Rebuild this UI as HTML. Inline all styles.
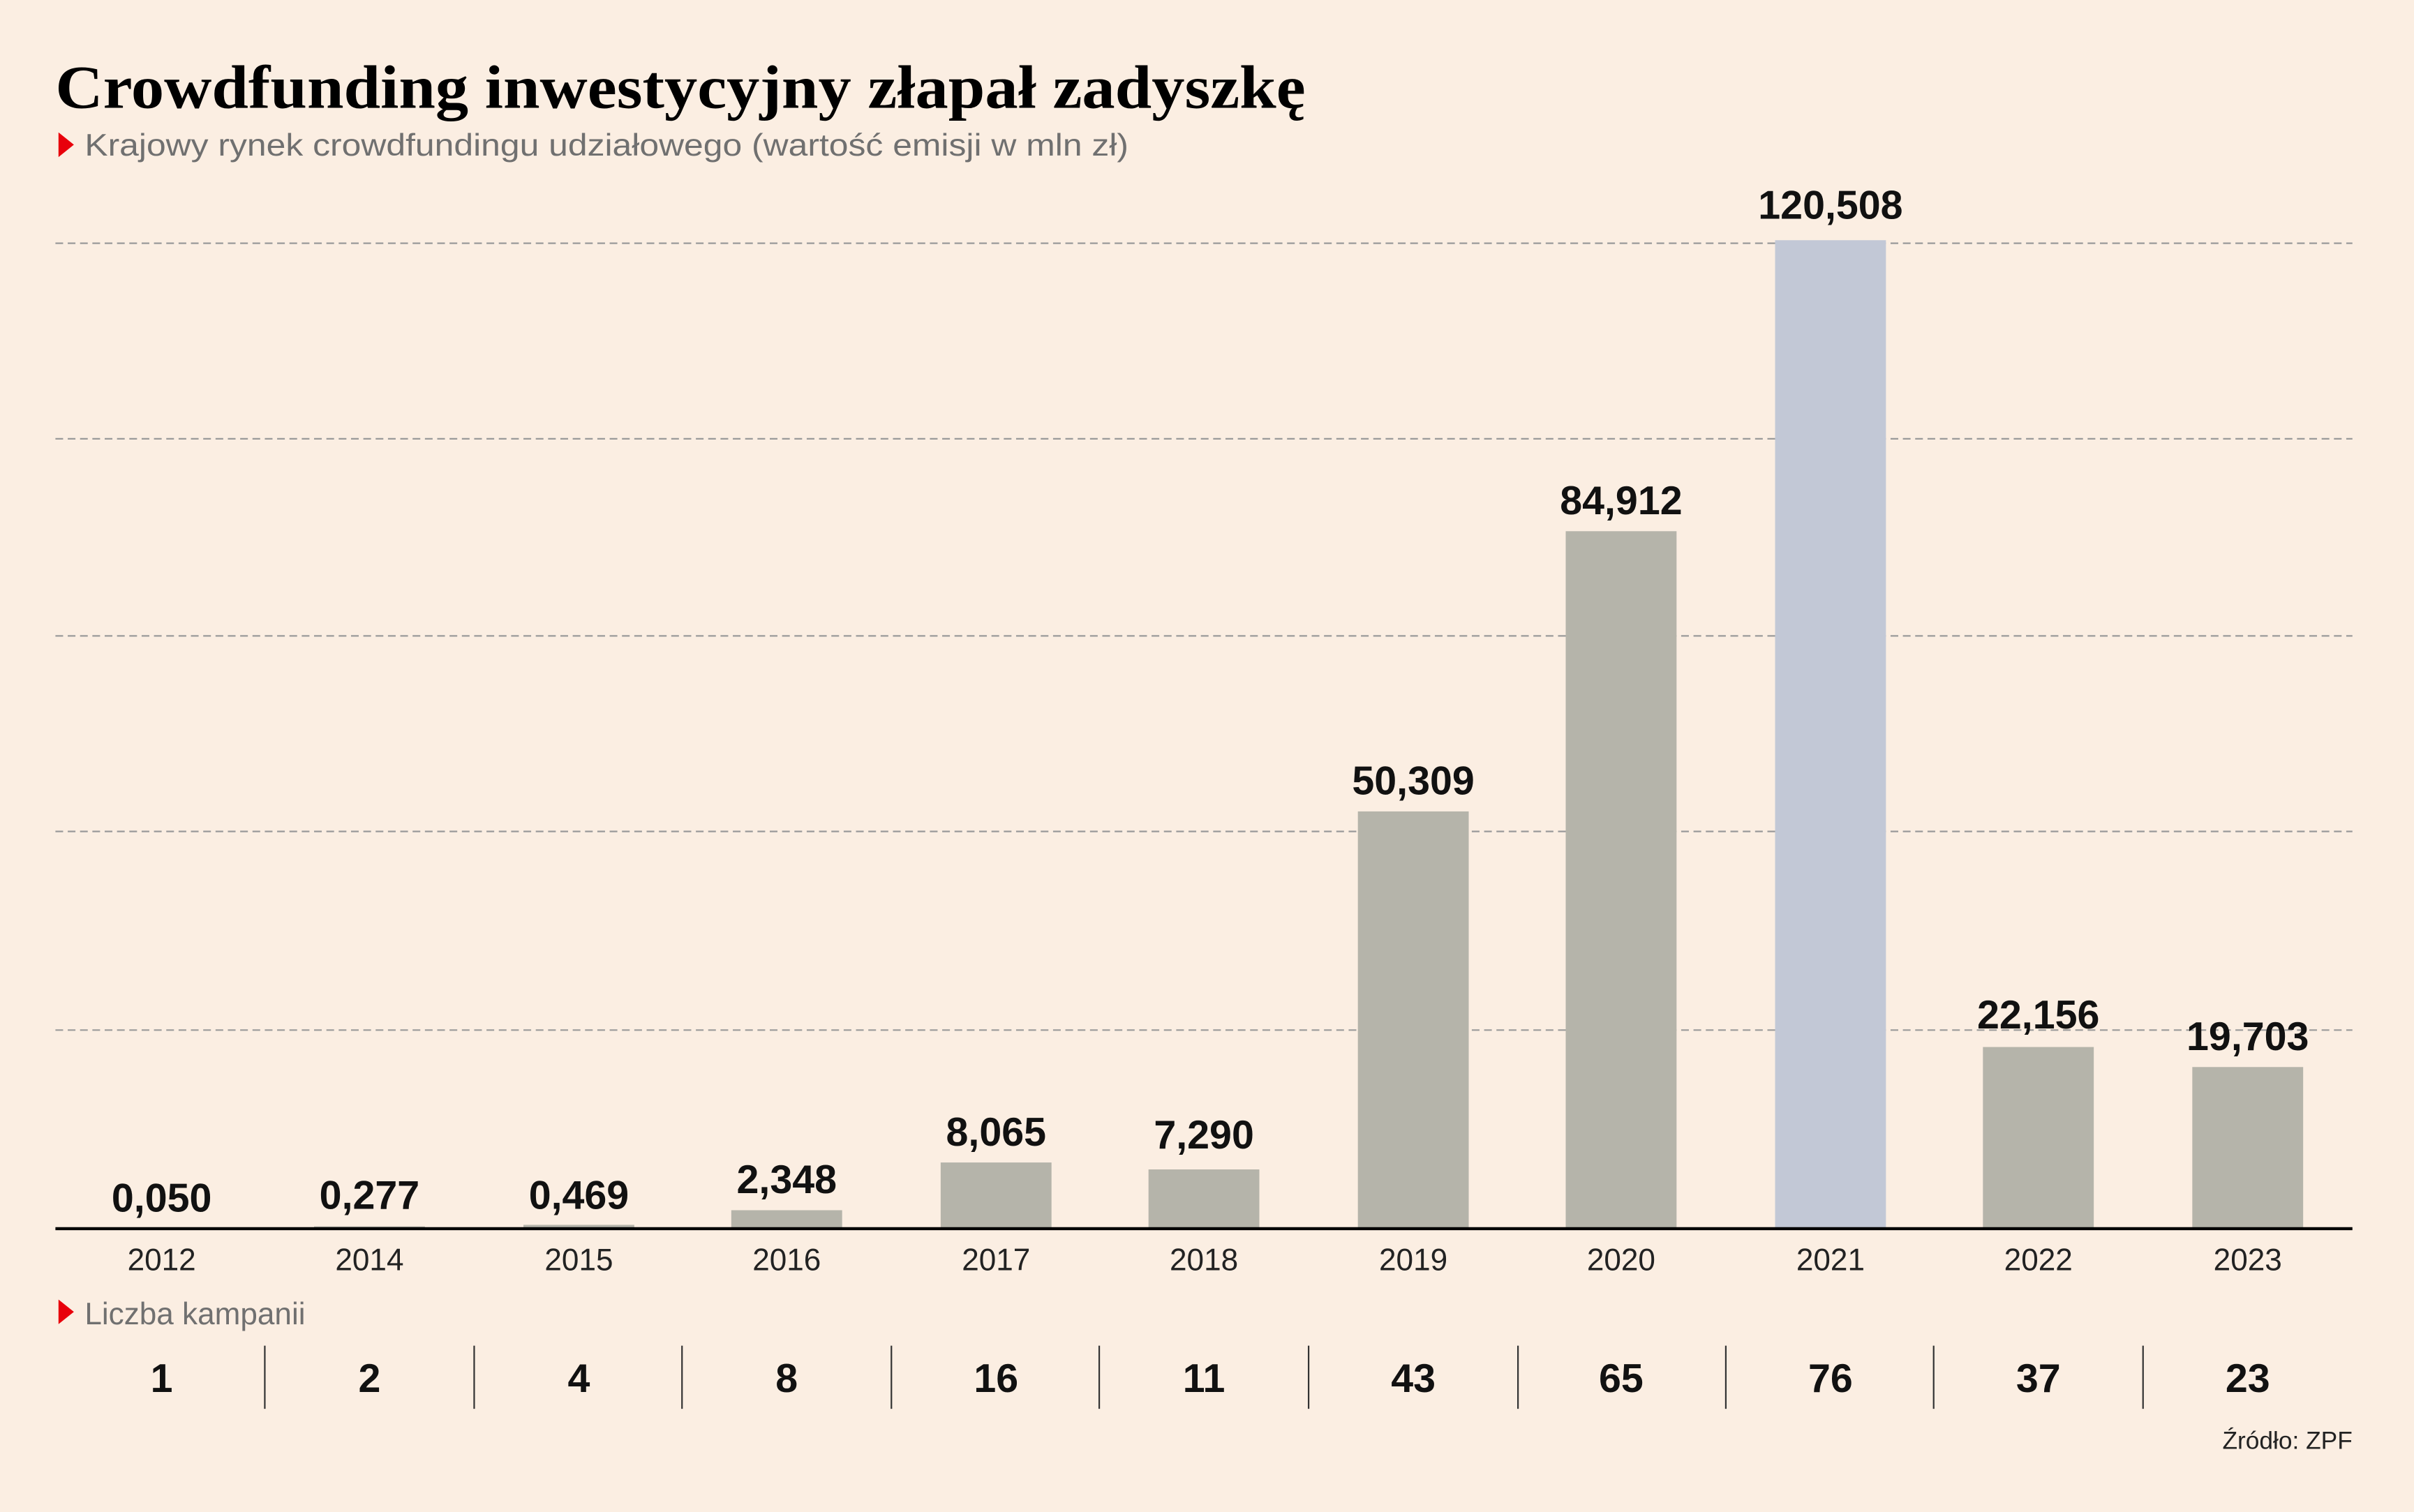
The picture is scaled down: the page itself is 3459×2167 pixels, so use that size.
<!DOCTYPE html>
<html><head><meta charset="utf-8"><style>
html,body{margin:0;padding:0;background:#fbeee2;}
svg{display:block;}
</style></head><body>
<svg width="3459" height="2167" viewBox="0 0 1568 982" preserveAspectRatio="none" xmlns="http://www.w3.org/2000/svg">
<rect width="1568" height="982" fill="#fbeee2"/>
<text x="36" y="70" font-family="Liberation Serif, serif" font-weight="bold" font-size="40" textLength="812" lengthAdjust="spacingAndGlyphs" fill="#000">Crowdfunding inwestycyjny złapał zadyszkę</text>
<polygon points="38,86 48,94 38,102" fill="#e8000b"/>
<text x="55" y="101" font-family="Liberation Sans, sans-serif" font-size="20" textLength="678" lengthAdjust="spacingAndGlyphs" fill="#707070">Krajowy rynek crowdfundingu udziałowego (wartość emisji w mln zł)</text>
<g stroke="#9a9a9a" stroke-width="1" stroke-dasharray="5,3">
<line x1="36" y1="158" x2="1528" y2="158"/>
<line x1="36" y1="285" x2="1528" y2="285"/>
<line x1="36" y1="413" x2="1528" y2="413"/>
<line x1="36" y1="540" x2="1528" y2="540"/>
<line x1="36" y1="669" x2="1528" y2="669"/>
</g>
<g fill="#b5b4aa">
<rect x="69" y="797.7" width="72" height="0.3"/>
<rect x="204" y="796.5" width="72" height="1.5"/>
<rect x="340" y="795.5" width="72" height="2.5"/>
<rect x="475" y="786" width="72" height="12"/>
<rect x="611" y="755" width="72" height="43"/>
<rect x="746" y="759.5" width="72" height="38.5"/>
<rect x="882" y="527" width="72" height="271"/>
<rect x="1017" y="345" width="72" height="453"/>
<rect x="1153" y="156" width="72" height="642" fill="#c2c8d6"/>
<rect x="1288" y="680" width="72" height="118"/>
<rect x="1424" y="693" width="72" height="105"/>
</g>
<line x1="36" y1="798" x2="1528" y2="798" stroke="#000" stroke-width="2"/>
<g font-family="Liberation Sans, sans-serif" font-weight="bold" font-size="26" fill="#111" text-anchor="middle">
<text x="105" y="787">0,050</text>
<text x="240" y="785">0,277</text>
<text x="376" y="785">0,469</text>
<text x="511" y="775">2,348</text>
<text x="647" y="744">8,065</text>
<text x="782" y="746">7,290</text>
<text x="918" y="516">50,309</text>
<text x="1053" y="334">84,912</text>
<text x="1189" y="142">120,508</text>
<text x="1324" y="668">22,156</text>
<text x="1460" y="682">19,703</text>
</g>
<g font-family="Liberation Sans, sans-serif" font-size="20" fill="#222" text-anchor="middle">
<text x="105" y="825">2012</text><text x="240" y="825">2014</text><text x="376" y="825">2015</text>
<text x="511" y="825">2016</text><text x="647" y="825">2017</text><text x="782" y="825">2018</text>
<text x="918" y="825">2019</text><text x="1053" y="825">2020</text><text x="1189" y="825">2021</text>
<text x="1324" y="825">2022</text><text x="1460" y="825">2023</text>
</g>
<polygon points="38,844 48,852 38,860" fill="#e8000b"/>
<text x="55" y="860" font-family="Liberation Sans, sans-serif" font-size="20" fill="#707070">Liczba kampanii</text>
<g font-family="Liberation Sans, sans-serif" font-weight="bold" font-size="26" fill="#111" text-anchor="middle">
<text x="105" y="904">1</text><text x="240" y="904">2</text><text x="376" y="904">4</text>
<text x="511" y="904">8</text><text x="647" y="904">16</text><text x="782" y="904">11</text>
<text x="918" y="904">43</text><text x="1053" y="904">65</text><text x="1189" y="904">76</text>
<text x="1324" y="904">37</text><text x="1460" y="904">23</text>
</g>
<g stroke="#333" stroke-width="1">
<line x1="172" y1="874" x2="172" y2="915"/><line x1="308" y1="874" x2="308" y2="915"/>
<line x1="443" y1="874" x2="443" y2="915"/><line x1="579" y1="874" x2="579" y2="915"/>
<line x1="714" y1="874" x2="714" y2="915"/><line x1="850" y1="874" x2="850" y2="915"/>
<line x1="986" y1="874" x2="986" y2="915"/><line x1="1121" y1="874" x2="1121" y2="915"/>
<line x1="1256" y1="874" x2="1256" y2="915"/><line x1="1392" y1="874" x2="1392" y2="915"/>
</g>
<text x="1528" y="941" text-anchor="end" font-family="Liberation Sans, sans-serif" font-size="16" fill="#222">Źródło: ZPF</text>
</svg>
</body></html>
